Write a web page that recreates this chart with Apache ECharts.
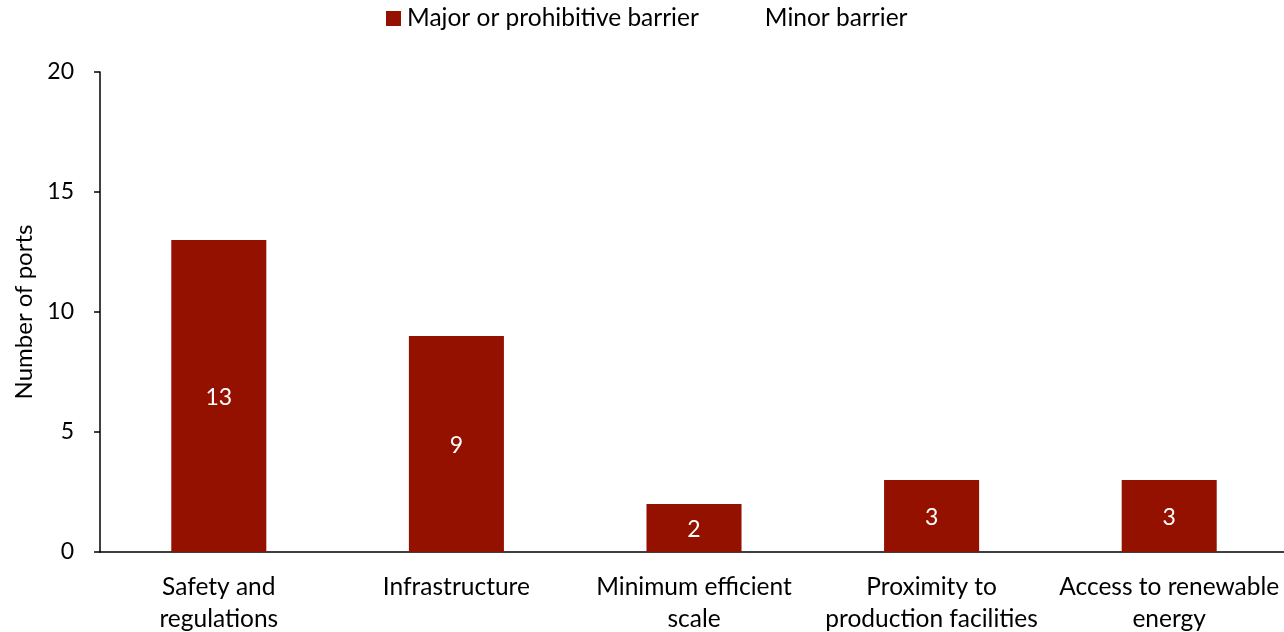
<!DOCTYPE html>
<html>
<head>
<meta charset="utf-8">
<script src="https://cdn.jsdelivr.net/npm/echarts@6/dist/echarts.min.js"></script>
<style>
  html, body { margin: 0; padding: 0; background: #fff; }
  #chart { width: 1284px; height: 632px; }
</style>
</head>
<body>
<div id="chart"></div>
<script>
// Barriers reported by ports
const categories = [
  'Safety and\nregulations',
  'Infrastructure',
  'Minimum efficient\nscale',
  'Proximity to\nproduction facilities',
  'Access to renewable\nenergy'
];
const majorBarrier = [13, 9, 2, 3, 3];
const minorBarrier = [];
const seriesNames = ['Major or prohibitive barrier', 'Minor barrier'];
const yTicks = { min: 0, max: 20, interval: 5 };

const font = 'Lato, "Open Sans", sans-serif';
const chart = echarts.init(document.getElementById('chart'), null, { renderer: 'canvas' });

chart.setOption({
  animation: false,
  textStyle: { fontFamily: font, color: '#000' },
  legend: {
    top: 1,
    left: 381,
    itemWidth: 15,
    itemHeight: 15,
    itemGap: 45,
    textStyle: { fontFamily: font, fontSize: 24.5, color: '#000', padding: [0, 0, 0, 1] },
    data: seriesNames.map(n => ({ name: n, icon: 'rect' }))
  },
  grid: {
    left: 100, right: -4, top: 72, bottom: 80,
    containLabel: false, outerBoundsMode: 'none'
  },
  xAxis: {
    type: 'category',
    data: categories,
    axisTick: { show: false },
    axisLine: { lineStyle: { color: '#000', width: 1.5 } },
    axisLabel: {
      fontFamily: font, fontSize: 24.5, color: '#000',
      margin: 19, lineHeight: 32, interval: 0
    }
  },
  yAxis: {
    type: 'value',
    min: yTicks.min, max: yTicks.max, interval: yTicks.interval,
    name: 'Number of ports',
    nameLocation: 'middle',
    nameGap: 62,
    nameTextStyle: { fontFamily: font, fontSize: 24, color: '#000' },
    splitLine: { show: false },
    axisLine: { show: true, lineStyle: { color: '#000', width: 1.5 } },
    axisTick: { show: true, inside: false, length: 6, lineStyle: { color: '#000', width: 1.5 } },
    axisLabel: { fontFamily: font, fontSize: 23, color: '#000', margin: 26 }
  },
  series: [
    {
      name: seriesNames[0],
      type: 'bar',
      stack: 'ports',
      data: majorBarrier,
      barWidth: '40%',
      itemStyle: { color: '#941100' },
      label: {
        show: true, position: 'inside', color: '#fff',
        fontFamily: font, fontSize: 23, offset: [0, 2]
      }
    },
    {
      name: seriesNames[1],
      type: 'bar',
      stack: 'ports',
      data: minorBarrier,
      barWidth: '40%',
      itemStyle: { color: '#ffffff' }
    }
  ]
});
</script>
</body>
</html>
